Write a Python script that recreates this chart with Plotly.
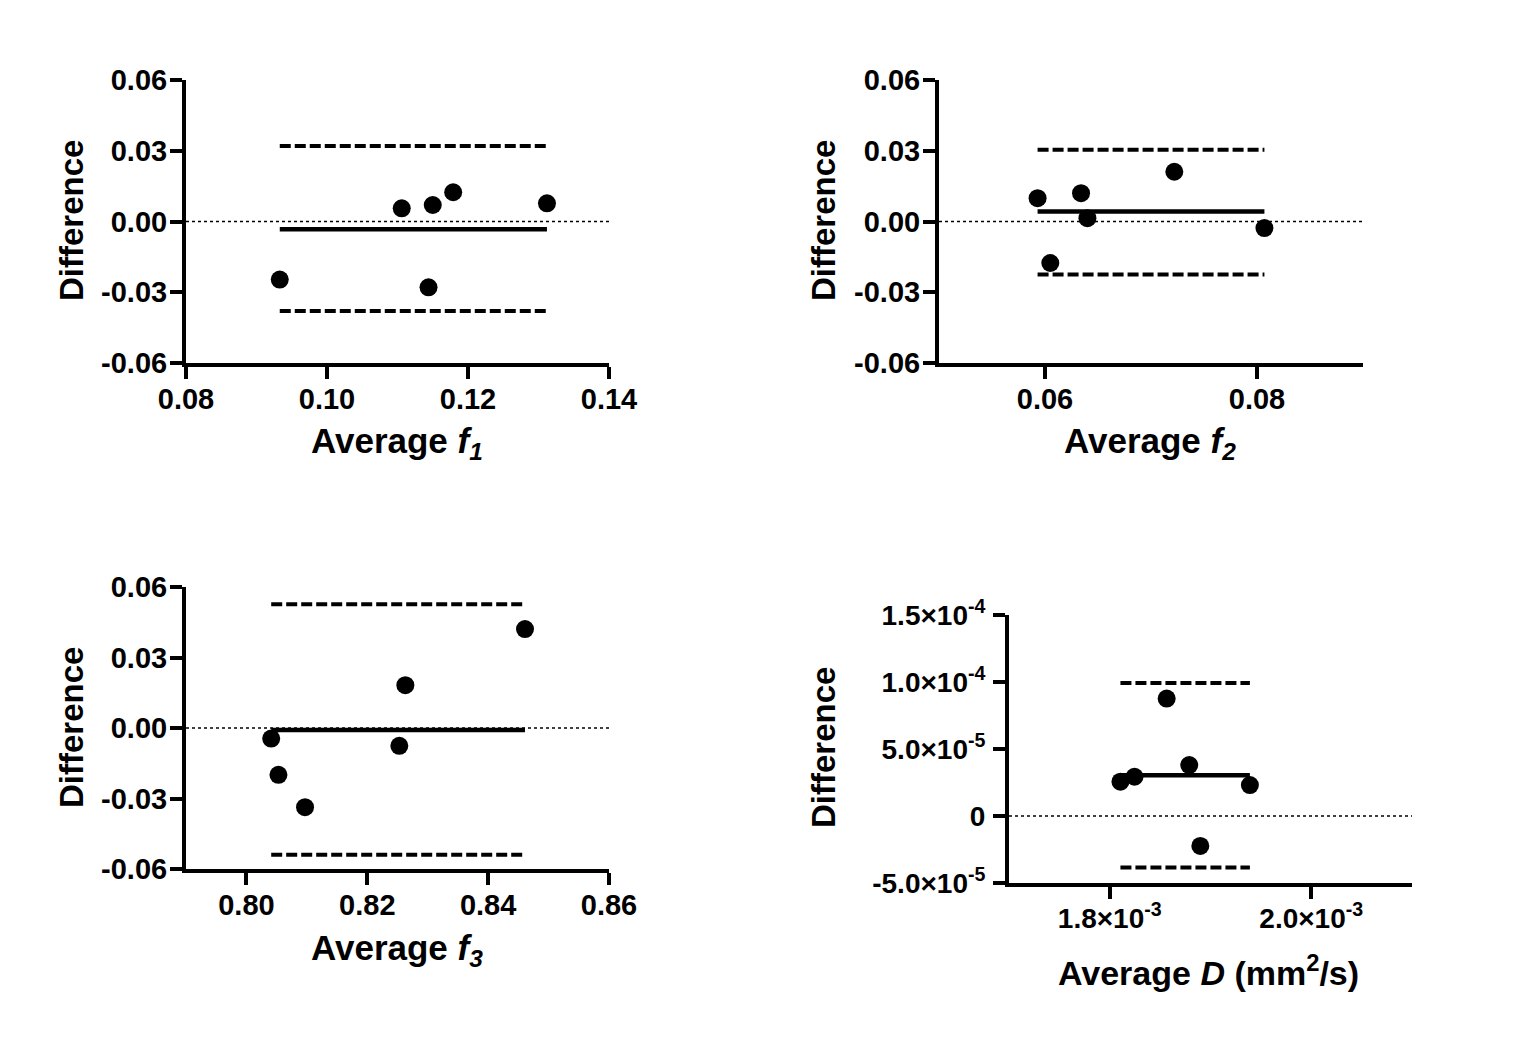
import plotly.graph_objects as go

# page is drawn inside an 8px body margin, so the figure is 16px smaller
PAGE_OFF = 8
W, H = 1525 - 2 * PAGE_OFF, 1040 - 2 * PAGE_OFF

# ---------------- data ----------------
f1_avg = [0.0933, 0.1106, 0.1150, 0.1179, 0.1312, 0.1144]
f1_diff = [-0.0246, 0.0056, 0.0070, 0.0124, 0.0077, -0.0279]
f1_bias = -0.0033
f1_upper = 0.0320
f1_lower = -0.0380

f2_avg = [0.0593, 0.0605, 0.0634, 0.0640, 0.0722, 0.0807]
f2_diff = [0.0099, -0.0176, 0.0120, 0.0014, 0.0211, -0.0028]
f2_bias = 0.0042
f2_upper = 0.0304
f2_lower = -0.0225

f3_avg = [0.8041, 0.8053, 0.8097, 0.8253, 0.8263, 0.8461]
f3_diff = [-0.0045, -0.0199, -0.0337, -0.0076, 0.0182, 0.0421]
f3_bias = -0.0009
f3_upper = 0.0527
f3_lower = -0.0539

D_avg = [1.8106e-3, 1.8246e-3, 1.8565e-3, 1.8789e-3, 1.8899e-3, 1.9391e-3]
D_diff = [2.56e-5, 2.93e-5, 8.76e-5, 3.80e-5, -2.23e-5, 2.31e-5]
D_bias = 3.05e-5
D_upper = 9.93e-5
D_lower = -3.85e-5

f_yticks = [-0.06, -0.03, 0.0, 0.03, 0.06]
f_yticklabels = ["-0.06", "-0.03", "0.00", "0.03", "0.06"]

f1_xticks = [0.08, 0.10, 0.12, 0.14]
f1_xticklabels = ["0.08", "0.10", "0.12", "0.14"]
f2_xticks = [0.06, 0.08]
f2_xticklabels = ["0.06", "0.08"]
f3_xticks = [0.80, 0.82, 0.84, 0.86]
f3_xticklabels = ["0.80", "0.82", "0.84", "0.86"]

D_xticks = [1.8e-3, 2.0e-3]
D_xticklabels = ["1.8×10<sup>-3</sup>", "2.0×10<sup>-3</sup>"]
D_yticks = [-5e-5, 0, 5e-5, 1.0e-4, 1.5e-4]
D_yticklabels = ["-5.0×10<sup>-5</sup>", "0", "5.0×10<sup>-5</sup>",
                 "1.0×10<sup>-4</sup>", "1.5×10<sup>-4</sup>"]

x_titles = ["Average <i>f<sub>1</sub></i>", "Average <i>f<sub>2</sub></i>",
            "Average <i>f<sub>3</sub></i>", "Average <i>D</i> (mm<sup>2</sup>/s)"]
y_title = "Difference"

# ---------------- layout helpers ----------------
FONT = "Liberation Sans"


def fx(px):
    return (px - PAGE_OFF) / W


def fy(py):
    return 1 - (py - PAGE_OFF) / H


def xd(a, b):
    return [fx(a), fx(b)]


def yd(top, bottom):
    return [fy(bottom), fy(top)]


panels = [
    dict(x=f1_avg, y=f1_diff, bias=f1_bias, up=f1_upper, lo=f1_lower,
         xr=[0.08, 0.14], yr=[-0.06, 0.06],
         xt=f1_xticks, xl=f1_xticklabels, yt=f_yticks, yl=f_yticklabels,
         xdom=xd(186, 609), ydom=yd(80, 363), tfs=29, ystand=-3, xtfs=35,
         xtitle_pos=(397, 443), ytitle_pos=(71, 221)),
    dict(x=f2_avg, y=f2_diff, bias=f2_bias, up=f2_upper, lo=f2_lower,
         xr=[0.05, 0.09], yr=[-0.06, 0.06],
         xt=f2_xticks, xl=f2_xticklabels, yt=f_yticks, yl=f_yticklabels,
         xdom=xd(939, 1363), ydom=yd(80, 363), tfs=29, ystand=-3, xtfs=35,
         xtitle_pos=(1150, 443), ytitle_pos=(823, 221)),
    dict(x=f3_avg, y=f3_diff, bias=f3_bias, up=f3_upper, lo=f3_lower,
         xr=[0.79, 0.86], yr=[-0.06, 0.06],
         xt=f3_xticks, xl=f3_xticklabels, yt=f_yticks, yl=f_yticklabels,
         xdom=xd(186, 609), ydom=yd(587, 869), tfs=29, ystand=-3, xtfs=35,
         xtitle_pos=(397, 950), ytitle_pos=(71, 728)),
    dict(x=D_avg, y=D_diff, bias=D_bias, up=D_upper, lo=D_lower,
         xr=[1.7e-3, 2.1e-3], yr=[-5e-5, 1.5e-4],
         xt=D_xticks, xl=D_xticklabels, yt=D_yticks, yl=D_yticklabels,
         xdom=xd(1009, 1412), ydom=yd(615, 883), tfs=28, ystand=2, xtfs=34,
         xtitle_pos=(1208, 970), ytitle_pos=(823, 748)),
]

fig = go.Figure()
layout = dict(
    width=W, height=H, autosize=False,
    margin=dict(l=0, r=0, t=0, b=0, pad=0, autoexpand=False),
    paper_bgcolor="white", plot_bgcolor="white", showlegend=False,
    font=dict(family=FONT, color="black"),
)
annotations = []

for i, p in enumerate(panels, start=1):
    xa = "x" if i == 1 else f"x{i}"
    ya = "y" if i == 1 else f"y{i}"
    xmin, xmax = min(p["x"]), max(p["x"])
    # zero reference line (dotted)
    fig.add_trace(go.Scatter(x=p["xr"], y=[0, 0], mode="lines", xaxis=xa, yaxis=ya,
                             line=dict(color="black", width=1.5, dash="3px,3px"),
                             hoverinfo="skip"))
    # limits of agreement (dashed)
    for lv in (p["up"], p["lo"]):
        fig.add_trace(go.Scatter(x=[xmin, xmax], y=[lv, lv], mode="lines",
                                 xaxis=xa, yaxis=ya,
                                 line=dict(color="black", width=4, dash="11px,4px"),
                                 hoverinfo="skip"))
    # bias (solid)
    fig.add_trace(go.Scatter(x=[xmin, xmax], y=[p["bias"], p["bias"]], mode="lines",
                             xaxis=xa, yaxis=ya,
                             line=dict(color="black", width=4.5), hoverinfo="skip"))
    # points
    fig.add_trace(go.Scatter(x=p["x"], y=p["y"], mode="markers", xaxis=xa, yaxis=ya,
                             marker=dict(color="black", size=18, symbol="circle",
                                         line=dict(width=0))))

    common = dict(showline=True, linecolor="black", linewidth=4, ticks="outside",
                  ticklen=12, tickwidth=4, tickcolor="black", showgrid=False,
                  zeroline=False, tickmode="array", automargin=False,
                  tickfont=dict(family=FONT, size=p["tfs"], color="black",
                                weight="bold"))
    xkey = "xaxis" if i == 1 else f"xaxis{i}"
    ykey = "yaxis" if i == 1 else f"yaxis{i}"
    layout[xkey] = dict(common, domain=p["xdom"], range=p["xr"], anchor=ya,
                        tickvals=p["xt"], ticktext=p["xl"], ticklabelstandoff=-5)
    layout[ykey] = dict(common, domain=p["ydom"], range=p["yr"], anchor=xa,
                        tickvals=p["yt"], ticktext=p["yl"],
                        ticklabelstandoff=p["ystand"])

    tx, ty = p["xtitle_pos"]
    annotations.append(dict(text=x_titles[i - 1], x=fx(tx), y=fy(ty),
                            xref="paper", yref="paper", showarrow=False,
                            xanchor="center", yanchor="middle",
                            font=dict(family=FONT, size=p["xtfs"], color="black",
                                      weight="bold")))
    ux, uy = p["ytitle_pos"]
    annotations.append(dict(text=y_title, x=fx(ux), y=fy(uy),
                            xref="paper", yref="paper", showarrow=False,
                            xanchor="center", yanchor="middle", textangle=-90,
                            font=dict(family=FONT, size=33, color="black", weight="bold")))

layout["annotations"] = annotations
fig.update_layout(**layout)
fig.write_html("out.html")
